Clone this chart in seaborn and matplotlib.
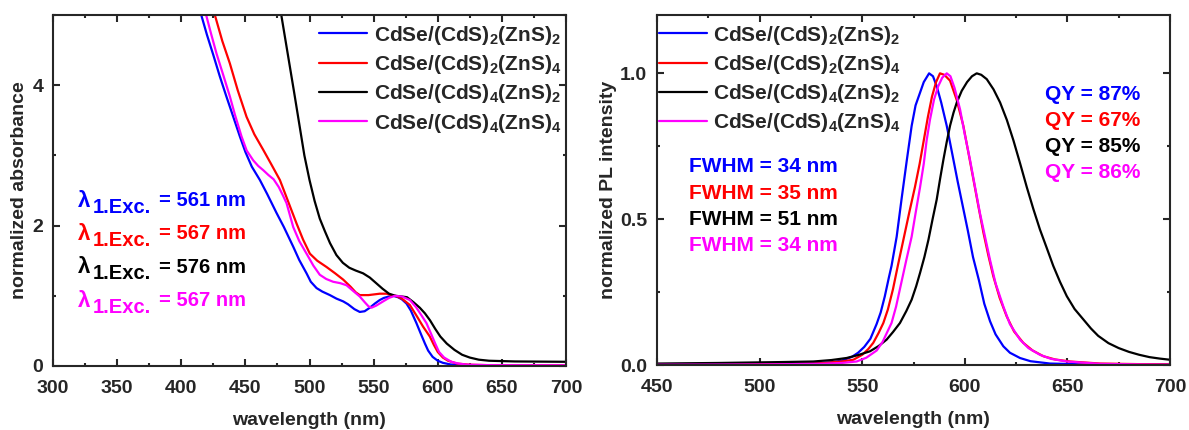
import numpy as np
import pandas as pd
import matplotlib
matplotlib.use("Agg")
import matplotlib.pyplot as plt
from matplotlib.ticker import MultipleLocator, FormatStrFormatter
import seaborn as sns

# ---------------- data ----------------
series_names = ["CdSe/(CdS)$_\\mathbf{2}$(ZnS)$_\\mathbf{2}$",
                "CdSe/(CdS)$_\\mathbf{2}$(ZnS)$_\\mathbf{4}$",
                "CdSe/(CdS)$_\\mathbf{4}$(ZnS)$_\\mathbf{2}$",
                "CdSe/(CdS)$_\\mathbf{4}$(ZnS)$_\\mathbf{4}$"]
series_colors = ["#0000FF", "#FF0000", "#000000", "#FF00FF"]

# absorbance (left)
abs_blue_x = [405, 414.5, 420, 425, 430, 435, 440, 445.7, 450, 455, 461.3, 467, 474.3, 480, 487.3, 492,
              497.7, 501, 505.5, 510, 515.9, 521, 526.3, 530, 535, 539.2, 543, 547, 551, 554.8, 558,
              562, 565.2, 569, 572, 575.6, 579, 583.4, 587, 590, 592.5, 596, 600, 604, 610, 620, 640, 700]
abs_blue_y = [5.8, 5.07, 4.72, 4.43, 4.13, 3.85, 3.58, 3.27, 3.05, 2.84, 2.65, 2.45, 2.18, 1.98, 1.70, 1.51,
              1.32, 1.20, 1.11, 1.06, 1.01, 0.96, 0.92, 0.88, 0.81, 0.77, 0.78, 0.83, 0.89, 0.94, 0.97,
              0.99, 1.0, 0.98, 0.95, 0.89, 0.79, 0.61, 0.45, 0.32, 0.22, 0.13, 0.075, 0.045, 0.022, 0.01,
              0.006, 0.005]
abs_red_x = [418, 426.2, 432, 437.9, 444, 450.9, 457, 463.9, 470, 476.9, 483, 489.9, 495, 500.3, 506,
             513.3, 520, 526.3, 532, 536, 539.2, 546, 554.8, 560, 564, 567, 572, 578.2, 583, 588.6,
             593.8, 597, 600, 604, 608, 615, 625, 640, 700]
abs_red_y = [5.7, 5.0, 4.63, 4.31, 3.93, 3.55, 3.30, 3.08, 2.88, 2.65, 2.36, 2.03, 1.80, 1.60, 1.50,
             1.41, 1.32, 1.23, 1.13, 1.05, 1.01, 1.01, 1.03, 1.03, 1.01, 1.0, 0.96, 0.87, 0.73, 0.56,
             0.42, 0.30, 0.20, 0.12, 0.075, 0.035, 0.018, 0.012, 0.01]
abs_black_x = [472, 478, 483, 488, 492, 496, 500, 504, 508, 512, 516, 521, 526, 531, 536, 541.8, 547,
               552, 557, 562, 567, 572, 576, 581, 586, 590, 594, 598, 602, 607, 613, 619, 625, 632, 640,
               660, 700]
abs_black_y = [5.7, 5.0, 4.45, 3.9, 3.45, 3.0, 2.65, 2.35, 2.1, 1.92, 1.75, 1.58, 1.47, 1.40, 1.36, 1.32,
               1.26, 1.18, 1.10, 1.03, 1.0, 0.99, 0.98, 0.91, 0.83, 0.75, 0.65, 0.53, 0.42, 0.32, 0.23,
               0.16, 0.12, 0.09, 0.075, 0.065, 0.06]
abs_magenta_x = [408, 418.4, 423, 427.5, 433, 437.9, 442, 447, 451, 456.1, 460, 463.9, 468, 472, 476,
                 479, 482.1, 487.3, 492, 497.7, 503, 508, 513, 518.4, 524, 528.9, 534, 539.2, 543, 546,
                 548.3, 552, 557.4, 562, 566.5, 572, 578.2, 583, 587, 591.2, 595, 598, 601, 605, 610.6,
                 616, 622.5, 640, 700]
abs_magenta_y = [5.9, 5.07, 4.75, 4.45, 4.13, 3.84, 3.57, 3.27, 3.07, 2.93, 2.85, 2.79, 2.72, 2.66, 2.55,
                 2.44, 2.32, 1.98, 1.78, 1.60, 1.43, 1.30, 1.24, 1.20, 1.18, 1.15, 1.07, 0.99, 0.91, 0.85,
                 0.83, 0.86, 0.92, 0.97, 1.0, 0.99, 0.94, 0.84, 0.73, 0.61, 0.45, 0.32, 0.20, 0.12, 0.06,
                 0.035, 0.02, 0.012, 0.01]

# photoluminescence (right)
pl_blue_x = [450, 500, 525, 535, 540, 545, 548, 551, 554, 557, 559, 561, 563, 564.3, 566.8, 569.2, 571.7,
             574.1, 576, 578.2, 580, 582.6, 584.5, 586.3, 588.5, 591.2, 594, 596.5, 599, 601.5, 604,
             606.9, 609.5, 612.3, 615, 618.8, 622, 626.9, 632, 641.5, 660, 700]
pl_blue_y = [0.003, 0.004, 0.006, 0.009, 0.015, 0.028, 0.042, 0.062, 0.09, 0.14, 0.18, 0.235, 0.30, 0.34,
             0.44, 0.57, 0.70, 0.82, 0.89, 0.934, 0.97, 1.0, 0.99, 0.956, 0.90, 0.82, 0.72, 0.63, 0.545,
             0.46, 0.37, 0.29, 0.21, 0.15, 0.105, 0.064, 0.042, 0.024, 0.013, 0.005, 0.002, 0.002]
pl_red_x = [450, 500, 530, 540, 545.7, 550, 553, 555.4, 558, 560.3, 562.5, 565, 567.5, 570.4, 573, 575.7,
            578, 580, 582, 584, 586, 587.9, 590, 592.8, 596, 599.3, 601.7, 604.2, 606.6, 609.1, 611.5,
            613.9, 617, 620.4, 624, 628.5, 633, 638.3, 644, 651.3, 665.9, 685, 700]
pl_red_y = [0.002, 0.003, 0.006, 0.012, 0.018, 0.035, 0.055, 0.076, 0.11, 0.144, 0.19, 0.26, 0.345, 0.44,
            0.525, 0.61, 0.69, 0.77, 0.85, 0.92, 0.97, 1.0, 0.995, 0.975, 0.91, 0.82, 0.73, 0.636, 0.545,
            0.453, 0.375, 0.304, 0.23, 0.167, 0.115, 0.076, 0.05, 0.03, 0.019, 0.012, 0.005, 0.003, 0.002]
pl_black_x = [450, 480, 510, 526.2, 535, 542.4, 548, 553.8, 558, 561.9, 565, 568.4, 571.5, 574.1, 576.3,
              578.2, 580.3, 582.3, 584.3, 586.3, 588, 589.6, 591.2, 592.8, 594.5, 596.1, 598.5, 601.1,
              603.5, 605.8, 608, 610.7, 614, 617.2, 620.5, 623.7, 627, 630.2, 633.4, 636.6, 640, 643.1,
              646.4, 649.7, 653.5, 657.8, 661.5, 665, 670, 675, 680, 685, 690, 695, 700]
pl_black_y = [0.005, 0.007, 0.01, 0.012, 0.017, 0.024, 0.034, 0.047, 0.065, 0.087, 0.113, 0.144, 0.185,
              0.224, 0.27, 0.316, 0.37, 0.43, 0.50, 0.567, 0.64, 0.705, 0.765, 0.82, 0.865, 0.90, 0.94,
              0.97, 0.99, 1.0, 0.995, 0.98, 0.945, 0.90, 0.84, 0.77, 0.69, 0.61, 0.535, 0.465, 0.40, 0.34,
              0.285, 0.236, 0.192, 0.156, 0.125, 0.10, 0.075, 0.058, 0.045, 0.035, 0.027, 0.022, 0.018]
pl_magenta_x = [450, 500, 530, 540, 547.3, 552, 557.1, 560, 562, 564.3, 566.5, 569, 571.5, 574.1, 576,
                578.2, 580, 581.4, 583, 585, 587, 589, 591.2, 593, 595, 597.7, 600, 602.5, 605, 607.4,
                610, 612.3, 615, 618.8, 622, 626.9, 631, 636.6, 642, 649.7, 665.9, 685, 700]
pl_magenta_y = [0.001, 0.002, 0.004, 0.007, 0.012, 0.025, 0.05, 0.08, 0.11, 0.144, 0.20, 0.28, 0.36, 0.44,
                0.52, 0.61, 0.69, 0.77, 0.84, 0.91, 0.955, 0.985, 1.0, 0.99, 0.95, 0.876, 0.79, 0.705,
                0.61, 0.52, 0.435, 0.36, 0.28, 0.20, 0.14, 0.087, 0.058, 0.035, 0.021, 0.012, 0.004,
                0.002, 0.001]

exc_values = ["561", "567", "576", "567"]
fwhm_values = ["34", "35", "51", "34"]
qy_values = ["87", "67", "85", "86"]

# ---------------- style ----------------
sns.set_theme(style="ticks")
plt.rcParams.update({
    "font.family": ["Liberation Sans", "DejaVu Sans"],
    "font.weight": "bold",
    "axes.labelweight": "bold",
    "mathtext.fontset": "custom",
    "mathtext.rm": "Liberation Sans:bold",
    "mathtext.bf": "Liberation Sans:bold",
    "mathtext.it": "Liberation Sans:bold:italic",
    "mathtext.default": "bf",
    "axes.linewidth": 1.5,
})

fig = plt.figure(figsize=(11.89, 4.30), dpi=100)
ax1 = fig.add_axes([53 / 1189, 64 / 430, 513 / 1189, 351 / 430])
ax2 = fig.add_axes([657 / 1189, 65 / 430, 513 / 1189, 350 / 430])

abs_sets = [(abs_blue_x, abs_blue_y), (abs_red_x, abs_red_y),
            (abs_black_x, abs_black_y), (abs_magenta_x, abs_magenta_y)]
pl_sets = [(pl_blue_x, pl_blue_y), (pl_red_x, pl_red_y),
           (pl_black_x, pl_black_y), (pl_magenta_x, pl_magenta_y)]

for (x, y), name, c in zip(abs_sets, series_names, series_colors):
    sns.lineplot(x=x, y=y, ax=ax1, color=c, linewidth=1.6, label=name, sort=False, estimator=None)
for (x, y), name, c in zip(pl_sets, series_names, series_colors):
    sns.lineplot(x=x, y=y, ax=ax2, color=c, linewidth=1.6, label=name, sort=False, estimator=None)

ax1.set_xlim(300, 700)
ax1.set_ylim(0, 5)
ax1.xaxis.set_major_locator(MultipleLocator(50))
ax1.xaxis.set_minor_locator(MultipleLocator(25))
ax1.yaxis.set_major_locator(MultipleLocator(2))
ax1.yaxis.set_minor_locator(MultipleLocator(1))

ax2.set_xlim(450, 700)
ax2.set_ylim(0, 1.2)
ax2.xaxis.set_major_locator(MultipleLocator(50))
ax2.xaxis.set_minor_locator(MultipleLocator(25))
ax2.yaxis.set_major_locator(MultipleLocator(0.5))
ax2.yaxis.set_minor_locator(MultipleLocator(0.25))
ax2.yaxis.set_major_formatter(FormatStrFormatter("%.1f"))

for ax in (ax1, ax2):
    ax.tick_params(which="both", direction="in", top=True, right=True, width=1.5, labelsize=14)
    ax.tick_params(axis="x", which="both", pad=10)
    ax.tick_params(axis="y", which="both", pad=7)
    ax.tick_params(which="major", length=5)
    ax.tick_params(which="minor", length=2.5)
    for lab in ax.get_xticklabels() + ax.get_yticklabels():
        lab.set_fontweight("bold")
    ax.set_xlabel("wavelength (nm)", fontsize=14, fontweight="bold", labelpad=11)
    for sp in ax.spines.values():
        sp.set_linewidth(1.5)
        sp.set_visible(True)

ax1.set_ylabel("normalized absorbance", fontsize=14, fontweight="bold", labelpad=3)
ax2.set_ylabel("normalized PL intensity", fontsize=14, fontweight="bold", labelpad=2)

leg_kw = dict(frameon=False, fontsize=15, handlelength=2.3, handletextpad=0.3, labelspacing=0.3,
              borderaxespad=0, borderpad=0)
leg1 = ax1.legend(loc="upper right", bbox_to_anchor=(0.99, 0.975), **leg_kw)
leg2 = ax2.legend(loc="upper left", bbox_to_anchor=(0.004, 0.975), **leg_kw)
for leg in (leg1, leg2):
    for t in leg.get_texts():
        t.set_fontweight("bold")

# lambda annotations (left)
exc_y = [2.27, 1.795, 1.32, 0.845]
for val, yv, c in zip(exc_values, exc_y, series_colors):
    ax1.annotate("λ", xy=(319.5, yv), xytext=(0, 0), textcoords="offset points",
                 fontsize=16, color=c, fontweight="bold", va="baseline", ha="left")
    ax1.annotate("1.Exc.", xy=(319.5, yv), xytext=(10.5, -4.3), textcoords="offset points",
                 fontsize=14.5, color=c, fontweight="bold", va="baseline", ha="left")
    ax1.annotate("= " + val + " nm", xy=(319.5, yv), xytext=(58.5, 0.5), textcoords="offset points",
                 fontsize=14.5, color=c, fontweight="bold", va="baseline", ha="left")

# FWHM and QY annotations (right)
fwhm_y = [0.661, 0.568, 0.479, 0.39]
for val, yv, c in zip(fwhm_values, fwhm_y, series_colors):
    ax2.text(465.8, yv, "FWHM = " + val + " nm", fontsize=15, color=c, fontweight="bold",
             va="baseline", ha="left")
qy_y = [0.91, 0.818, 0.729, 0.640]
for val, yv, c in zip(qy_values, qy_y, series_colors):
    ax2.text(639.3, yv, "QY = " + val + "%", fontsize=15, color=c, fontweight="bold",
             va="baseline", ha="left")

fig.savefig("out.png", dpi=100)
